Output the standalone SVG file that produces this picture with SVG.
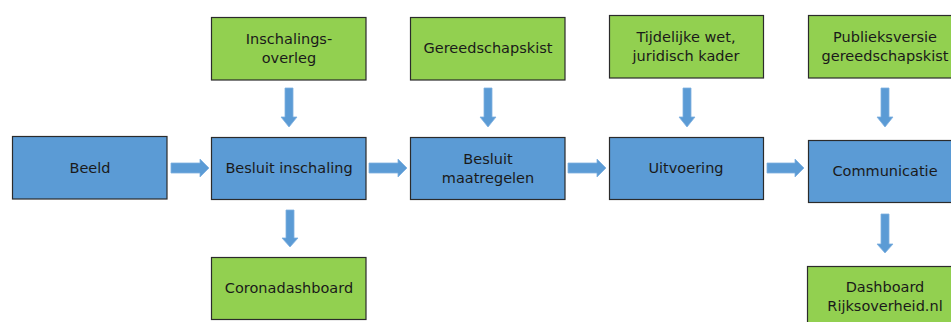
<svg xmlns="http://www.w3.org/2000/svg" width="951" height="322" viewBox="0 0 951 322">
<defs>
<style>
.blue{fill:#5b9bd5;stroke:#2b2b2b;stroke-width:1.2}
.green{fill:#92d050;stroke:#2b2b2b;stroke-width:1.2}
.t{font-family:"DejaVu Sans",Verdana,sans-serif;font-size:14.5px;fill:#1a1a1a;text-anchor:middle}
.arr{fill:#5b9bd5;stroke:#7fb0e0;stroke-width:0.8}
</style>
</defs>
<rect width="951" height="322" fill="#ffffff"/>
<g id="beeld"><rect class="blue" x="12.5" y="136.5" width="154.5" height="62.5"/><text class="t" x="90" y="172.5">Beeld</text></g>
<g id="besluit-inschaling"><rect class="blue" x="211.5" y="137.5" width="154.5" height="62"/><text class="t" x="289" y="173">Besluit inschaling</text></g>
<g id="besluit-maatregelen"><rect class="blue" x="410.5" y="137.5" width="154.5" height="62"/><text class="t" x="488" y="163.5">Besluit</text><text class="t" x="488" y="182.5">maatregelen</text></g>
<g id="uitvoering"><rect class="blue" x="609.5" y="137.5" width="154" height="62"/><text class="t" x="686" y="172.5">Uitvoering</text></g>
<g id="communicatie"><rect class="blue" x="808.5" y="140.5" width="155" height="62"/><text class="t" x="885" y="176">Communicatie</text></g>
<g id="inschalingsoverleg"><rect class="green" x="211.5" y="17.5" width="154.5" height="62.5"/><text class="t" x="289" y="43.5">Inschalings-</text><text class="t" x="289" y="62.5">overleg</text></g>
<g id="gereedschapskist"><rect class="green" x="410.5" y="17.5" width="154.5" height="62.5"/><text class="t" x="488" y="53">Gereedschapskist</text></g>
<g id="tijdelijke-wet"><rect class="green" x="609.5" y="15.5" width="154" height="62.5"/><text class="t" x="686" y="41.5">Tijdelijke wet,</text><text class="t" x="686" y="60.5">juridisch kader</text></g>
<g id="publieksversie"><rect class="green" x="808.5" y="15.5" width="155" height="62.5"/><text class="t" x="885" y="41.5">Publieksversie</text><text class="t" x="885" y="60.5">gereedschapskist</text></g>
<g id="coronadashboard"><rect class="green" x="211.5" y="257.5" width="154.5" height="62"/><text class="t" x="289" y="293">Coronadashboard</text></g>
<g id="dashboard-rijksoverheid"><rect class="green" x="807.5" y="266.5" width="156" height="62"/><text class="t" x="885" y="292">Dashboard</text><text class="t" x="885" y="311">Rijksoverheid.nl</text></g>
<g id="connectors">
<path class="arr" d="M171,163 H200 V159 L209,168 L200,177 V173 H171 Z"/>
<path class="arr" d="M369,163 H398 V159 L407,168 L398,177 V173 H369 Z"/>
<path class="arr" d="M568,163 H597 V159 L606,168 L597,177 V173 H568 Z"/>
<path class="arr" d="M767,163 H795 V159 L804,168 L795,177 V173 H767 Z"/>
<path class="arr" d="M285,88 V117 H281 L289,127 L297,117 H293 V88 Z"/>
<path class="arr" d="M484,88 V117 H480 L488,127 L496,117 H492 V88 Z"/>
<path class="arr" d="M683,88 V117 H679 L687,127 L695,117 H691 V88 Z"/>
<path class="arr" d="M881,88 V117 H877 L885,127 L893,117 H889 V88 Z"/>
<path class="arr" d="M286,210 V238 H282 L290,247 L298,238 H294 V210 Z"/>
<path class="arr" d="M881,214 V244 H877 L885,253 L893,244 H889 V214 Z"/>
</g>
</svg>
